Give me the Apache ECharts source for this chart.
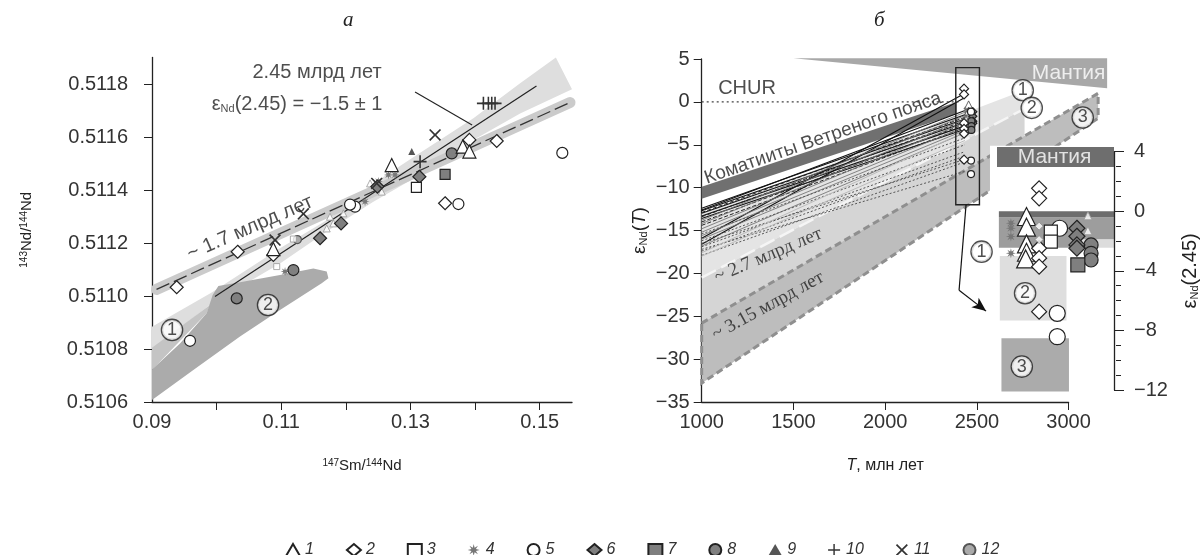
<!DOCTYPE html>
<html><head><meta charset="utf-8">
<script src="https://cdn.jsdelivr.net/npm/echarts@6/dist/echarts.min.js"></script>
<style>html,body{margin:0;padding:0;background:#fff}#c{width:1201px;height:555px}</style>
</head><body><div id="c"></div>
<script>
// ---------------- DATA: left panel (147Sm/144Nd vs 143Nd/144Nd) ----------------
const LEFT_X_TICKS = [0.10, 0.11, 0.12, 0.13, 0.14, 0.15];
const LEFT_X_LABELS = [0.09, 0.11, 0.13, 0.15];
const LEFT_Y_TICKS = [0.5106, 0.5108, 0.5110, 0.5112, 0.5114, 0.5116, 0.5118];

const L_TRI = [[0.10878,0.511177],[0.1271,0.511494],[0.13809,0.511564],[0.13912,0.511545]];
const L_TRI_SMALL = [[0.12375,0.511425],[0.12555,0.511394],[0.11962,0.511312],[0.11755,0.511299],[0.11704,0.511255],[0.11807,0.511274]];
const L_DIA = [[0.09382,0.511033],[0.10326,0.511167],[0.10878,0.511155],[0.13536,0.51135],[0.13912,0.511589],[0.14335,0.511585]];
const L_SQR = [[0.13092,0.51141]];
const L_SQR_SMALL = [[0.11188,0.511215],[0.1093,0.511111]];
const L_STAR = [[0.11059,0.511092],[0.12658,0.511457],[0.12761,0.511457],[0.12297,0.511356],[0.12503,0.511432]];
const L_CIR = [[0.09588,0.510831],[0.12142,0.511337],[0.12065,0.511345],[0.13742,0.511347],[0.1535,0.51154]];
const L_GDIA = [[0.11601,0.511218],[0.11926,0.511274],[0.12488,0.511413],[0.13138,0.51145]];
const L_GSQR = [[0.13536,0.511459]];
const L_GCIR = [[0.10311,0.510991],[0.11188,0.511098],[0.13639,0.511538]];
const L_STRI = [[0.1302,0.511545]];
const L_PLUS = [[0.14129,0.511727],[0.14206,0.511727],[0.14258,0.511727],[0.14309,0.511727],[0.13149,0.511507]];
const L_CROSS = [[0.13381,0.511608],[0.10904,0.511211],[0.12478,0.511425],[0.11343,0.51131]];
const L_LCIR = [[0.1125,0.511213]];

const ISO_245 = [[0.09975,0.510998],[0.1495,0.511792]];
const ISO_17 = [[0.0907,0.511025],[0.1547,0.51173]];
const POINTER = [[0.13071,0.51177],[0.13954,0.511645]];

const L_ZONE1 = [[0.0900,0.510884],[0.09924,0.511013],[0.10981,0.51118],[0.11755,0.511293],[0.12426,0.511425],[0.13097,0.511532],[0.13974,0.511671],[0.14697,0.511803],[0.1525,0.5119],[0.1550,0.51178],[0.14697,0.511689],[0.13974,0.511589],[0.13097,0.51145],[0.12426,0.511356],[0.11704,0.511243],[0.10981,0.511123],[0.09924,0.510972],[0.0900,0.510796]];
const L_ZONE_MID = [[0.0900,0.510805],[0.09898,0.510966],[0.09846,0.510935],[0.0900,0.510721]];
const L_ZONE2 = [[0.0900,0.510608],[0.0900,0.510723],[0.09433,0.510821],[0.09846,0.510935],[0.09939,0.511004],[0.10027,0.511038],[0.10362,0.511052],[0.10981,0.511079],[0.11497,0.511104],[0.11704,0.511092],[0.1173,0.511067],[0.11626,0.511048],[0.10981,0.510947],[0.10362,0.510847],[0.0964,0.510721]];

// ---------------- DATA: right panel (T vs eNd(T)) ----------------
const RIGHT_X_TICKS = [1500, 2000, 2500, 3000];
const RIGHT_X_LABELS = [1000, 1500, 2000, 2500, 3000];
const MANTLE = [[1500,5.1],[3210,5.1],[3210,1.6]];
const KOMATIITE = [[1000,-9.9],[2390,0],[2390,-1.4],[1000,-11.3]];
const ZONE1 = [[1000,-13],[2715,1.0],[2760,-0.8],[1000,-20.5]];
const ZONE2 = [[1000,-20.5],[2760,-0.8],[2760,-4.0],[1000,-25.8]];
const ZONE3 = [[1000,-25.8],[3161,1.0],[3161,-1.9],[1000,-32.8]];
const ZONE12_EDGE = [[1000,-20.5],[2760,-0.8]];
const CHUR = [[1000,0],[2400,0]];
const BOX = [[2385,4],[2514,4],[2514,-12],[2385,-12]];
const ARROW_A = [[2441,-12],[2403,-21.96]];
const ARROW_B = [[2403,-21.96],[2550,-24.4]];

const FAN_T = [1000, 2435];
const FAN_START = [-12.4,-12.7,-13.0,-12.6,-13.3,-15.9,-16.6,-13.6, -12.9,-13.4,-14.0,-14.4, -14.2,-14.8,-15.2,-15.6,-16.0,-13.8,-16.8, -15.4,-16.2,-16.9,-17.4,-17.9,-17.2,-16.5, -17.6,-18.0];
const FAN_END   = [-1.5,-2.0,-2.4,-1.0,-2.8,1.0,0.5,-3.2, -1.8,-2.2,-2.6,-3.0, -1.6,-2.0,-2.4,-2.9,-3.3,-1.2,-3.6, -4.2,-5.0,-5.8,-6.3,-7.0,-8.1,-6.7, -3.5,-4.5];
const FAN_KIND  = ['s','s','s','s','s','s','s','s','d','d','d','d','g','g','g','g','g','g','g','o','o','o','o','o','o','o','l','l'];

// inset: eNd(2.45) values, x = column position
const IN_TRI = [[2.52,-0.35],[2.52,-1.07],[2.52,-2.19],[2.52,-2.75],[2.45,-3.2]];
const IN_DIA = [[3.6,1.54],[3.6,0.87],[3.6,-2.48],[3.6,-3.15],[3.6,-3.72],[3.6,-6.74]];
const IN_DIA_SMALL = [[3.6,-1.0],[3.6,-1.9]];
const IN_SQR = [[4.6,-1.37],[4.6,-2.04]];
const IN_STAR = [[1.19,-0.8],[1.19,-1.14],[1.19,-1.7],[1.19,-2.82]];
const IN_CIR = [[5.35,-1.14],[5.15,-6.85],[5.15,-8.42]];
const IN_GDIA = [[6.83,-1.14],[6.83,-1.68],[6.83,-2.26],[6.83,-2.48]];
const IN_GSQR = [[6.91,-3.6]];
const IN_GCIR = [[8.04,-2.26],[8.04,-2.82],[8.04,-3.27]];
const IN_STRI = [[7.77,-0.3],[7.77,-1.3]];
const BOX_T = {tri:2455, dia:2430, sqr:2460, star:2440, cir:2468, gdia:2478, gsqr:2478, gcir:2470, stri:2465};

const IN_BG = [[-0.6,4.4],[10,4.4],[10,-12.3],[-0.6,-12.3]];
const IN_MANTLE = [[0,4.32],[10,4.32],[10,2.97],[0,2.97]];
const IN_Z1_DARK = [[0.16,0],[10,0],[10,-0.4],[0.16,-0.4]];
const IN_Z1_MID = [[0.16,-0.4],[10,-0.4],[10,-1.9],[7.26,-1.9],[7.26,-2.45],[0.16,-2.45]];
const IN_Z1_LIGHT = [[7.26,-1.9],[10,-1.9],[10,-2.45],[7.26,-2.45]];
const IN_Z2 = [[0.24,-3.0],[5.94,-3.0],[5.94,-7.34],[0.24,-7.34]];
const IN_Z3 = [[0.38,-8.52],[6.15,-8.52],[6.15,-12.1],[0.38,-12.1]];

const LEGEND = ['1','2','3','4','5','6','7','8','9','10','11','12'];

// ---------------- rendering ----------------
const FONT = 'Liberation Sans';
function starPath(n, r1, r2){let d='';for(let i=0;i<2*n;i++){const a=Math.PI*i/n-Math.PI/2;const r=i%2?r2:r1;d+=(i?'L':'M')+(r*Math.cos(a)).toFixed(2)+','+(r*Math.sin(a)).toFixed(2);}return 'path://'+d+'Z';}
const STAR = starPath(8,10,4);
const PLUS = 'path://M-1.2,-10H1.2V-1.2H10V1.2H1.2V10H-1.2V1.2H-10V-1.2H-1.2Z';
const CROSS = 'path://M-8.5,6.8L-6.8,8.5L0,1.7L6.8,8.5L8.5,6.8L1.7,0L8.5,-6.8L6.8,-8.5L0,-1.7L-6.8,-8.5L-8.5,-6.8L-1.7,0Z';
const minus = v => String(v).replace('-', '−');

const STY = {
  '1': {symbol:'triangle', c:'#fff', b:'#222'},
  '2': {symbol:'diamond', c:'#fff', b:'#222'},
  '3': {symbol:'rect', c:'#fff', b:'#222'},
  '4': {symbol:STAR, c:'#777', b:null},
  '5': {symbol:'circle', c:'#fff', b:'#222'},
  '6': {symbol:'diamond', c:'#7f7f7f', b:'#222'},
  '7': {symbol:'rect', c:'#7f7f7f', b:'#222'},
  '8': {symbol:'circle', c:'#808080', b:'#222'},
  '9': {symbol:'triangle', c:'#555', b:null},
  '10': {symbol:PLUS, c:'#333', b:null},
  '11': {symbol:CROSS, c:'#333', b:null},
  '12': {symbol:'circle', c:'#aaa', b:'#555'}
};
function pts(name, gi, data, size, z, over){
  const s = STY[name];
  return Object.assign({type:'scatter', name, xAxisIndex:gi, yAxisIndex:gi, data, symbol:s.symbol, symbolSize:size,
    z:z||30, silent:true, clip:false,
    itemStyle:{color:s.c, borderColor:s.b||s.c, borderWidth:s.b?1.2:0, opacity:1}}, over||{});
}
function poly(p, gi, style, z){
  return {type:'custom', xAxisIndex:gi, yAxisIndex:gi, z, silent:true, clip:false, data:[0],
    renderItem:(params, api)=>({type:'polygon', shape:{points:p.map(q=>api.coord(q))}, style:Object.assign({}, style)})};
}
function seg(gi, data, ls, z, extra){
  return Object.assign({type:'line', xAxisIndex:gi, yAxisIndex:gi, data, symbol:'none', showSymbol:false, silent:true, clip:false, z:z||20, lineStyle:ls}, extra||{});
}
function txt(gi, pos, text, label, z){
  return {type:'scatter', xAxisIndex:gi, yAxisIndex:gi, data:[pos], symbolSize:0, silent:true, clip:false, z:z||40,
    label:Object.assign({show:true, position:'inside', formatter:text, color:'#222', fontSize:20, fontFamily:FONT}, label||{})};
}
const circ = {width:20, height:20, borderRadius:11, borderColor:'#222', borderWidth:1.3, backgroundColor:'#fff', align:'center', lineHeight:21, fontSize:18, color:'#222', fontFamily:FONT};
function circled(gi, pos, n, z){ return txt(gi, pos, '{c|'+n+'}', {rich:{c:circ}}, z||45); }

const series = [];
// left panel points first (legend takes its icon from the first series of a name)
series.push(pts('1', 0, L_TRI, 13, 36));
series.push(pts('2', 0, L_DIA, 13, 35));
series.push(pts('3', 0, L_SQR, 10, 33));
series.push(pts('4', 0, L_STAR, 9, 31));
series.push(pts('5', 0, L_CIR, 11, 34));
series.push(pts('6', 0, L_GDIA, 13, 32));
series.push(pts('7', 0, L_GSQR, 10, 32));
series.push(pts('8', 0, L_GCIR, 11, 32));
series.push(pts('9', 0, L_STRI, 7, 31));
series.push(pts('10', 0, L_PLUS, 13, 37));
series.push(pts('11', 0, L_CROSS, 12, 37));
series.push(pts('12', 0, L_LCIR, 8, 30));
series.push(pts('1', 0, L_TRI_SMALL, 7, 30, {itemStyle:{color:'#fff', borderColor:'#999', borderWidth:1}}));
series.push(pts('3', 0, L_SQR_SMALL, 6, 30, {itemStyle:{color:'#fff', borderColor:'#999', borderWidth:1}}));

// left panel shapes
series.push(poly(L_ZONE1, 0, {fill:'#dedede'}, 1));
series.push(poly(L_ZONE_MID, 0, {fill:'#c4c4c4'}, 2));
series.push(poly(L_ZONE2, 0, {fill:'#ababab'}, 3));
series.push(seg(0, ISO_17, {color:'#cbcbcb', width:11, cap:'round'}, 4));
series.push(seg(0, ISO_245, {color:'#222', width:1.2}, 10));
series.push(seg(0, ISO_17, {color:'#333', width:1.3, type:[14,5]}, 10));
series.push(seg(0, POINTER, {color:'#222', width:1.1}, 10));
series.push(txt(0, [0.11554,0.511845], '2.45 млрд лет'));
series.push(txt(0, [0.11245,0.511721], 'ε{s|Nd}(2.45) = −1.5 ± 1', {rich:{s:{fontSize:11, verticalAlign:'bottom', lineHeight:14, fontFamily:FONT, color:'#222'}}}));
series.push(txt(0, [0.10517,0.511257], '~ 1.7 млрд лет', {rotate:23.5}));
series.push(circled(0, [0.0931,0.510872], 1));
series.push(circled(0, [0.10796,0.510966], 2));

// right panel shapes
series.push(poly(ZONE1, 1, {fill:'#e4e4e4'}, 1));
series.push(poly(ZONE2, 1, {fill:'#d5d5d5'}, 1));
series.push(poly(ZONE3, 1, {fill:'#bdbdbd', stroke:'#8f8f8f', lineWidth:3, lineDash:[7,4]}, 2));
series.push(seg(1, ZONE12_EDGE, {color:'#f5f5f5', width:2.5, type:[16,6]}, 3));
series.push(poly(MANTLE, 1, {fill:'#a8a8a8'}, 3));
series.push(poly(KOMATIITE, 1, {fill:'#707070'}, 3));
FAN_START.forEach((s,i)=>{
  const k = FAN_KIND[i];
  const ls = k==='s'?{color:'#111',width:1.1}:k==='d'?{color:'#222',width:1,type:[4,2]}:k==='g'?{color:'#777',width:0.9}:k==='o'?{color:'#555',width:1,type:[2,2]}:{color:'#bbb',width:1};
  series.push(seg(1, [[FAN_T[0],s],[FAN_T[1],FAN_END[i]]], ls, 5));
});
series.push(seg(1, CHUR, {color:'#444', width:1.2, type:[2,3]}, 6));
series.push(poly(BOX, 1, {fill:'none', stroke:'#222', lineWidth:1.4}, 25));
series.push(seg(1, ARROW_A, {color:'#111', width:1.2}, 25, {markLine:{silent:true, symbol:['none','arrow'], symbolSize:[9,14], label:{show:false}, lineStyle:{color:'#111', type:'solid', width:1.2}, data:[[{coord:ARROW_B[0]},{coord:ARROW_B[1]}]]}}));
series.push(txt(1, [1247,1.6], 'CHUR'));
series.push(txt(1, [3000,3.35], 'Мантия', {color:'#fff', fontSize:21}));
series.push(txt(1, [1661,-4.23], 'Коматииты Ветреного пояса', {rotate:19, fontSize:19}));
series.push(txt(1, [1363,-17.9], '~ 2.7 млрд лет', {rotate:23, fontSize:19, fontFamily:'Liberation Serif'}));
series.push(txt(1, [1361,-23.8], '~ 3.15 млрд лет', {rotate:28.6, fontSize:19, fontFamily:'Liberation Serif'}));
series.push(circled(1, [2750,1.36], 1));
series.push(circled(1, [2799,-0.7], 2));
series.push(circled(1, [3077,-1.82], 3));
// points in the box (same eNd(2.45) values as in inset)
const toBox = (arr, t) => arr.map(p => [t, p[1]]);
series.push(pts('4', 1, toBox(IN_STAR, BOX_T.star), 6, 30));
series.push(pts('1', 1, toBox(IN_TRI, BOX_T.tri), 8, 30, {itemStyle:{color:'#fff', borderColor:'#444', borderWidth:1}}));
series.push(pts('6', 1, toBox(IN_GDIA, BOX_T.gdia), 8, 30));
series.push(pts('8', 1, toBox(IN_GCIR, BOX_T.gcir), 7, 30));
series.push(pts('5', 1, toBox(IN_CIR, BOX_T.cir), 7, 31));
series.push(pts('2', 1, toBox(IN_DIA, BOX_T.dia), 9, 32));

// inset
series.push(poly(IN_BG, 2, {fill:'#fff'}, 50));
series.push(poly(IN_MANTLE, 2, {fill:'#6e6e6e'}, 51));
series.push(poly(IN_Z1_MID, 2, {fill:'#9d9d9d'}, 51));
series.push(poly(IN_Z1_LIGHT, 2, {fill:'#dcdcdc'}, 51));
series.push(poly(IN_Z1_DARK, 2, {fill:'#6d6d6d'}, 51));
series.push(poly(IN_Z2, 2, {fill:'#dedede'}, 51));
series.push(poly(IN_Z3, 2, {fill:'#ababab'}, 51));
series.push(txt(2, [4.92,3.64], 'Мантия', {color:'#fff', fontSize:21}, 60));
series.push(circled(2, [-1.32,-2.71], 1, 60));
series.push(circled(2, [2.4,-5.5], 2, 60));
series.push(circled(2, [2.12,-10.43], 3, 60));
series.push(pts('4', 2, IN_STAR, 10, 60));
series.push(pts('1', 2, IN_TRI, 18, 61));
series.push(pts('1', 2, IN_STRI, 8, 61, {itemStyle:{color:'#fff', borderColor:'#999', borderWidth:1}}));
series.push(pts('8', 2, IN_GCIR, 14, 61));
series.push(pts('7', 2, IN_GSQR, 14, 61));
series.push(pts('6', 2, IN_GDIA, 16, 62));
series.push(pts('5', 2, IN_CIR, 16, 62));
series.push(pts('3', 2, IN_SQR, 13, 63));
series.push(pts('2', 2, IN_DIA, 15, 63));
series.push(pts('2', 2, IN_DIA_SMALL, 8, 64, {itemStyle:{color:'#fff', borderColor:'#888', borderWidth:1}}));

const axisLine = {show:true, onZero:false, lineStyle:{color:'#222', width:1.3}};
const lab = {color:'#333', fontSize:20, fontFamily:FONT};
const option = {
  animation:false,
  textStyle:{fontFamily:FONT},
  graphic:[
    {type:'text', left:343, top:10, style:{text:'а', font:'italic 21px "Liberation Serif"', fill:'#222'}},
    {type:'text', left:874, top:10, style:{text:'б', font:'italic 21px "Liberation Serif"', fill:'#222'}}
  ],
  legend:{data:LEGEND, left:280, top:537, itemGap:32, itemWidth:14, itemHeight:12,
    textStyle:{fontStyle:'italic', fontSize:16, color:'#333', fontFamily:FONT}},
  grid:[
    {left:152, top:57.5, width:420, height:344.5},
    {left:701.7, top:59, width:366.9, height:343},
    {left:997, top:151.7, width:124, height:238.3}
  ],
  xAxis:[
    {gridIndex:0, type:'value', min:0.09, max:0.155, axisLine, splitLine:{show:false},
     axisTick:{show:true, customValues:LEFT_X_TICKS, length:8, lineStyle:{color:'#222'}},
     axisLabel:Object.assign({customValues:LEFT_X_LABELS, formatter:v=>v.toFixed(2), margin:10}, lab),
     name:'{p|147}Sm/{p|144}Nd', nameLocation:'middle', nameGap:56,
     nameTextStyle:{fontSize:15, color:'#222', fontFamily:FONT, rich:{p:{fontSize:10, verticalAlign:'top', lineHeight:12, color:'#222', fontFamily:FONT}}}},
    {gridIndex:1, type:'value', min:1000, max:3000, axisLine, splitLine:{show:false},
     axisTick:{show:true, customValues:RIGHT_X_TICKS, length:8, lineStyle:{color:'#222'}},
     axisLabel:Object.assign({customValues:RIGHT_X_LABELS, formatter:v=>String(v), margin:10}, lab),
     name:'{i|T}, млн лет', nameLocation:'middle', nameGap:56,
     nameTextStyle:{fontSize:16, color:'#222', fontFamily:FONT, rich:{i:{fontSize:16, fontStyle:'italic', color:'#222', fontFamily:FONT}}}},
    {gridIndex:2, type:'value', min:0, max:10, show:false, axisLine:{show:false, onZero:false}}
  ],
  yAxis:[
    {gridIndex:0, type:'value', min:0.5106, max:0.5119, axisLine, splitLine:{show:false},
     axisTick:{show:true, customValues:LEFT_Y_TICKS, length:8, lineStyle:{color:'#222'}},
     axisLabel:Object.assign({customValues:LEFT_Y_TICKS, formatter:v=>v.toFixed(4), margin:24}, lab),
     name:'{p|143}Nd/{p|144}Nd', nameLocation:'middle', nameGap:118, nameRotate:90,
     nameTextStyle:{fontSize:15, color:'#222', fontFamily:FONT, rich:{p:{fontSize:10, verticalAlign:'top', lineHeight:12, color:'#222', fontFamily:FONT}}}},
    {gridIndex:1, type:'value', min:-35, max:5, interval:5, axisLine, splitLine:{show:false},
     axisTick:{show:true, length:8, lineStyle:{color:'#222'}},
     axisLabel:Object.assign({formatter:minus, margin:12}, lab),
     name:'ε{s|Nd}({i|T})', nameLocation:'middle', nameGap:52, nameRotate:90,
     nameTextStyle:{fontSize:19, color:'#222', fontFamily:FONT, rich:{s:{fontSize:11, verticalAlign:'bottom', lineHeight:16, color:'#222', fontFamily:FONT}, i:{fontSize:19, fontStyle:'italic', color:'#222', fontFamily:FONT}}}},
    {gridIndex:2, type:'value', min:-12, max:4, interval:4, position:'right', axisLine, splitLine:{show:false}, z:80,
     axisTick:{show:true, length:10, lineStyle:{color:'#222'}},
     axisLabel:Object.assign({formatter:minus, margin:20}, lab),
     name:'ε{s|Nd}(2.45)', nameLocation:'middle', nameGap:66, nameRotate:90,
     nameTextStyle:{fontSize:20, color:'#222', fontFamily:FONT, rich:{s:{fontSize:11, verticalAlign:'bottom', lineHeight:16, color:'#222', fontFamily:FONT}}}},
    {gridIndex:2, type:'value', min:-12, max:4, interval:1, position:'left', offset:-124, axisLine:{show:false, onZero:false}, splitLine:{show:false}, z:80,
     axisTick:{show:true, inside:false, length:5, lineStyle:{color:'#222'}}, axisLabel:{show:false}}
  ],
  series
};
const chart = echarts.init(document.getElementById('c'));
chart.setOption(option);
</script></body></html>
